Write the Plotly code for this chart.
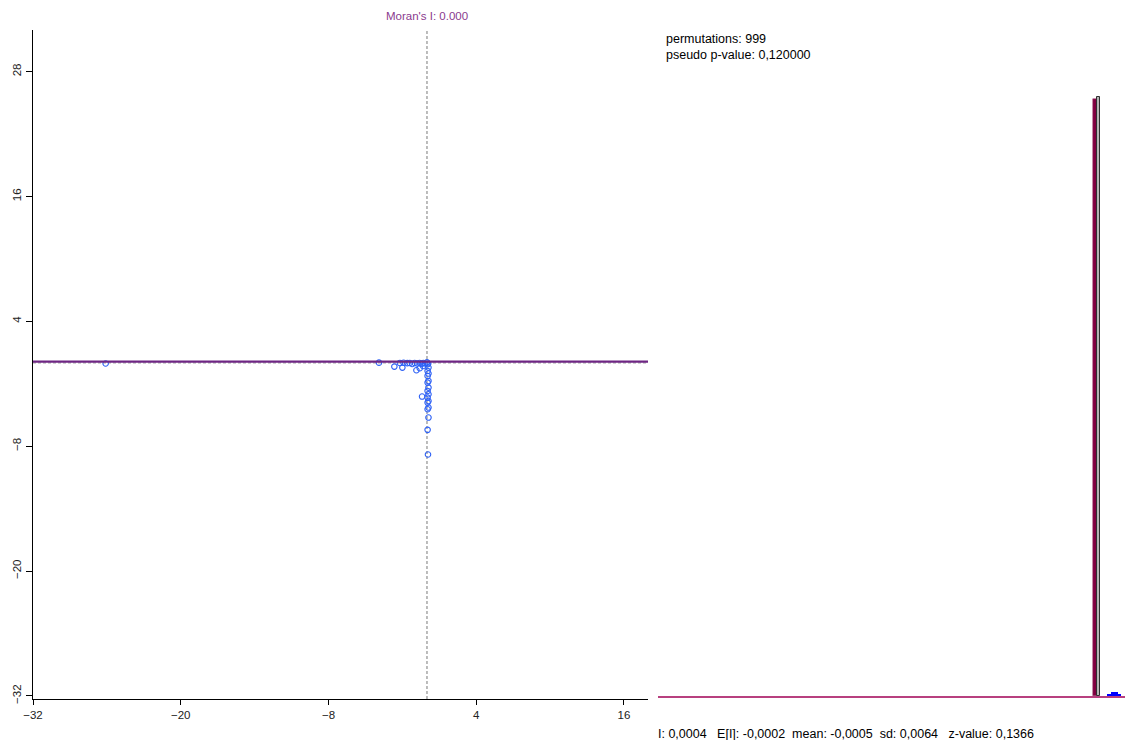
import plotly.graph_objects as go

# ---------------- data ----------------
# Moran scatter: standardized variable (x) vs spatial lag (y)
std_values = [-26.1, -3.9, -2.65, -2.0,
              -2.2, -1.9, -1.6, -1.4, -1.2, -1.0, -0.8, -0.6, -0.45, -0.3, -0.15, 0.0, 0.1,
              -0.86, -0.59, -0.32, -0.4,
              0.05, 0.12, 0.05, 0.12, 0.05, 0.12, 0.05, 0.12, 0.05,
              0.12, 0.05, 0.12, 0.05, 0.12, 0.05, 0.12, 0.05, 0.08]
lag_values = [-0.05, 0.03, -0.35, -0.45,
              0.0, 0.02, -0.02, 0.0, -0.1, 0.0, -0.05, 0.0, -0.1, 0.0, -0.05, 0.05, -0.05,
              -0.70, -0.51, -0.29, -3.23,
              -0.13, -0.45, -0.77, -1.02, -1.25, -1.73, -1.89, -2.37, -2.69,
              -3.01, -3.33, -3.66, -3.81, -4.29, -4.45, -5.25, -6.43, -8.8]
reg_intercept = 0.12
reg_slope = 0.0
morans_i_label = "Moran's I: 0.000"

x_ticks = [-32, -20, -8, 4, 16]
y_ticks = [28, 16, 4, -8, -20, -32]

# Permutation histogram (bin index -> count)
observed_bin = [0]
observed_count = [976]
peak_bin = [1]
peak_count = [979]
tail_bins = [4, 5, 6, 7]
tail_counts = [4, 6, 6, 4]

perm_text = ["permutations: 999", "pseudo p-value: 0,120000"]
stats_parts = ["I: 0,0004", "E[I]: -0,0002", "mean: -0,0005", "sd: 0,0064", "z-value: 0,1366"]
stats_gaps = [3, 2, 2, 3]   # number of spaces between the parts

# ---------------- layout helpers ----------------
OFF = 8                      # page body margin
W, H = 1141 - OFF, 740 - OFF
FONT = "Arial, Liberation Sans, sans-serif"
X_RANGE = [-32, 17.95]
Y_RANGE = [-32.3, 32.0]


def px_x(p):
    return (p - OFF) / W


def px_y(p):
    return 1 - (p - OFF) / H


stats_text = stats_parts[0]
for gap, part in zip(stats_gaps, stats_parts[1:]):
    stats_text += "\u00a0" * gap + part

fig = go.Figure()

reg_x = X_RANGE
reg_y = [reg_intercept + reg_slope * v for v in reg_x]

fig.add_trace(go.Scatter(
    x=std_values, y=lag_values, mode="markers",
    marker=dict(symbol="circle-open", size=5.5, color="#2F62F5", line=dict(width=1.1)),
    xaxis="x", yaxis="y", showlegend=False, hoverinfo="skip"))

fig.add_trace(go.Scatter(
    x=reg_x, y=reg_y, mode="lines",
    line=dict(color="#6E2683", width=2.2),
    xaxis="x", yaxis="y", showlegend=False, hoverinfo="skip"))

fig.add_trace(go.Bar(x=observed_bin, y=observed_count, width=1,
                     marker=dict(color="#800040", line=dict(color="#9A3A68", width=0.5)),
                     xaxis="x2", yaxis="y2", showlegend=False, hoverinfo="skip"))
fig.add_trace(go.Bar(x=peak_bin, y=peak_count, width=1,
                     marker=dict(color="#B4B4B4", line=dict(color="#303030", width=1)),
                     xaxis="x2", yaxis="y2", showlegend=False, hoverinfo="skip"))
fig.add_trace(go.Bar(x=tail_bins, y=tail_counts, width=1,
                     marker=dict(color="#0000FF", line=dict(width=0)),
                     xaxis="x2", yaxis="y2", showlegend=False, hoverinfo="skip"))

shapes = [
    dict(type="line", xref="x domain", x0=0, x1=1, yref="y", y0=0, y1=0,
         line=dict(color="#9A9A9A", width=1, dash="3px,2px"), layer="below"),
    dict(type="line", xref="x", x0=0, x1=0, yref="y domain", y0=0, y1=1,
         line=dict(color="#7A7A7A", width=1, dash="3px,2px"), layer="below"),
]

annotations = [
    dict(text=morans_i_label, x=px_x(427), y=px_y(16), xref="paper", yref="paper",
         xanchor="center", yanchor="middle", showarrow=False,
         font=dict(family=FONT, size=11.5, color="#8A3A8E")),
    dict(text=perm_text[0], x=px_x(664), y=px_y(39), xref="paper", yref="paper",
         xanchor="left", yanchor="middle", showarrow=False,
         font=dict(family=FONT, size=12.5, color="#000000")),
    dict(text=perm_text[1], x=px_x(664), y=px_y(55), xref="paper", yref="paper",
         xanchor="left", yanchor="middle", showarrow=False,
         font=dict(family=FONT, size=12.5, color="#000000")),
    dict(text=stats_text, x=px_x(656), y=px_y(734), xref="paper", yref="paper",
         xanchor="left", yanchor="middle", showarrow=False,
         font=dict(family=FONT, size=12.5, color="#000000")),
]

fig.update_layout(
    width=W, height=H,
    margin=dict(l=0, r=0, t=0, b=0, autoexpand=False),
    paper_bgcolor="white", plot_bgcolor="white",
    barmode="overlay", bargap=0,
    font=dict(family=FONT, size=11, color="#222222"),
    xaxis=dict(domain=[px_x(33), px_x(648)], range=X_RANGE, tickvals=x_ticks,
               automargin=False,
               showgrid=False, zeroline=False, showline=True, linecolor="#000000", linewidth=1,
               ticks="outside", ticklen=5, tickcolor="#000000",
               tickfont=dict(family=FONT, size=11.5, color="#222222"), anchor="y"),
    yaxis=dict(domain=[px_y(699), px_y(30)], range=Y_RANGE, tickvals=y_ticks,
               automargin=False,
               showgrid=False, zeroline=False, showline=True, linecolor="#000000", linewidth=1,
               ticks="outside", ticklen=6, tickcolor="#000000", tickangle=-90,
               tickfont=dict(family=FONT, size=11.5, color="#222222"), anchor="x"),
    xaxis2=dict(domain=[px_x(658), px_x(1125)], range=[-124.86, 8.57], automargin=False,
                showgrid=False, zeroline=False, showticklabels=False, ticks="",
                showline=True, linecolor="#B8407F", linewidth=1.5, anchor="y2"),
    yaxis2=dict(domain=[px_y(696), px_y(30)], range=[0, 1088.6], automargin=False,
                showgrid=False, zeroline=False, showticklabels=False, ticks="",
                showline=False, anchor="x2"),
    shapes=shapes,
    annotations=annotations,
)

fig.write_html("out.html")
